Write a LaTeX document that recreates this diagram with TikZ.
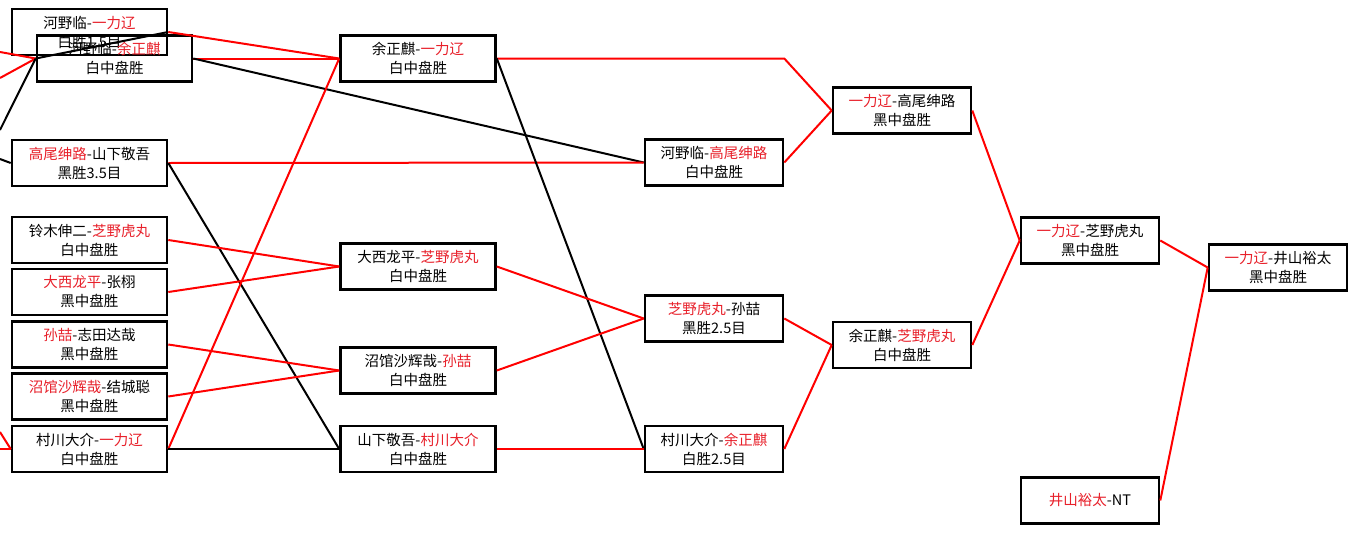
\documentclass[tikz,border=0pt]{standalone}
\usepackage{fontspec}
\setmainfont{Noto Sans CJK SC}
\usetikzlibrary{positioning,calc}
\definecolor{hotred}{HTML}{FF0000}
\definecolor{namered}{HTML}{E8202A}
\newcommand{\wn}[1]{\textcolor{namered}{#1}}

\begin{document}
\begin{tikzpicture}[x=1pt,y=-1pt,font=\fontsize{14.5}{19}\selectfont,
      game/.style={draw=black,line width=2.6pt,minimum width=155pt,minimum height=46pt,inner sep=0pt,align=center},
      late/.style={game,minimum width=138pt},
      win/.style={hotred,line width=2pt,line join=round},
      lose/.style={black,line width=2pt}]
    \fill[white] (0,0) rectangle (1358,533);
    \useasboundingbox (0,0) rectangle (1358,533);
    \node[game] (a1) at (89.5,32) {河野临-\wn{一力辽}\\白胜1.5目};
    \node[game] (a2) at (114.5,58.5) {河野临-\wn{余正麒}\\白中盘胜};
    \node[game] (a3) at (89.5,163) {\wn{高尾绅路}-山下敬吾\\黑胜3.5目};
    \node[game] (a4) at (89.5,240) {铃木伸二-\wn{芝野虎丸}\\白中盘胜};
    \node[game] (a5) at (89.5,292) {\wn{大西龙平}-张栩\\黑中盘胜};
    \node[game] (a6) at (89.5,344.5) {\wn{孙喆}-志田达哉\\黑中盘胜};
    \node[game] (a7) at (89.5,396.5) {\wn{沼馆沙辉哉}-结城聪\\黑中盘胜};
    \node[game] (a8) at (89.5,449) {村川大介-\wn{一力辽}\\白中盘胜};
    \node[game] (b1) at (418,58.5) {余正麒-\wn{一力辽}\\白中盘胜};
    \node[game] (b2) at (418,266.5) {大西龙平-\wn{芝野虎丸}\\白中盘胜};
    \node[game] (b3) at (418,370.5) {沼馆沙辉哉-\wn{孙喆}\\白中盘胜};
    \node[game] (b4) at (418,449) {山下敬吾-\wn{村川大介}\\白中盘胜};
    \node[late] (c1) at (714,162.5) {河野临-\wn{高尾绅路}\\白中盘胜};
    \node[late] (c2) at (714,318.5) {\wn{芝野虎丸}-孙喆\\黑胜2.5目};
    \node[late] (c3) at (714,449) {村川大介-\wn{余正麒}\\白胜2.5目};
    \node[late] (d1) at (902,110.5) {\wn{一力辽}-高尾绅路\\黑中盘胜};
    \node[late] (d2) at (902,345) {余正麒-\wn{芝野虎丸}\\白中盘胜};
    \node[late] (e1) at (1090,240.5) {\wn{一力辽}-芝野虎丸\\黑中盘胜};
    \node[late] (e2) at (1090,500.5) {\wn{井山裕太}-NT};
    \node[late] (f1) at (1278,267.5) {\wn{一力辽}-井山裕太\\黑中盘胜};
    \coordinate (in1) at (0,52);
    \coordinate (in2) at (0,78);
    \coordinate (in3) at (0,130);
    \coordinate (in4) at (0,159);
    \coordinate (in5) at (0,432);
    \coordinate (in6) at (0,449);
    \coordinate (bend) at (c1.east |- b1.east);
    \draw[win] (in1) -- (a2.west); \draw[win] (in2) -- (a2.west); \draw[lose] (in3) -- (a2.west);
    \draw[lose] (in4) -- (a3.west);
    \draw[win] (in5) -- (a8.west); \draw[win] (in6) -- (a8.west);
    \draw[lose] (a1.east) -- (a2.west); \draw[win] (a1.east) -- (b1.west);
    \draw[win] (a2.east) -- (b1.west); \draw[lose] (a2.east) -- (c1.west);
    \draw[win] (a3.east) -- (c1.west); \draw[lose] (a3.east) -- (b4.west);
    \draw[win] (a4.east) -- (b2.west); \draw[win] (a5.east) -- (b2.west);
    \draw[win] (a6.east) -- (b3.west); \draw[win] (a7.east) -- (b3.west);
    \draw[win] (a8.east) -- (b1.west); \draw[lose] (a8.east) -- (b4.west);
    \draw[win] (b1.east) -- (bend) -- (d1.west); \draw[lose] (b1.east) -- (c3.west);
    \draw[win] (b2.east) -- (c2.west); \draw[win] (b3.east) -- (c2.west);
    \draw[win] (b4.east) -- (c3.west);
    \draw[win] (c1.east) -- (d1.west); \draw[win] (c2.east) -- (d2.west); \draw[win] (c3.east) -- (d2.west);
    \draw[win] (d1.east) -- (e1.west); \draw[win] (d2.east) -- (e1.west);
    \draw[win] (e1.east) -- (f1.west); \draw[win] (e2.east) -- (f1.west);
  \end{tikzpicture}
\end{document}
